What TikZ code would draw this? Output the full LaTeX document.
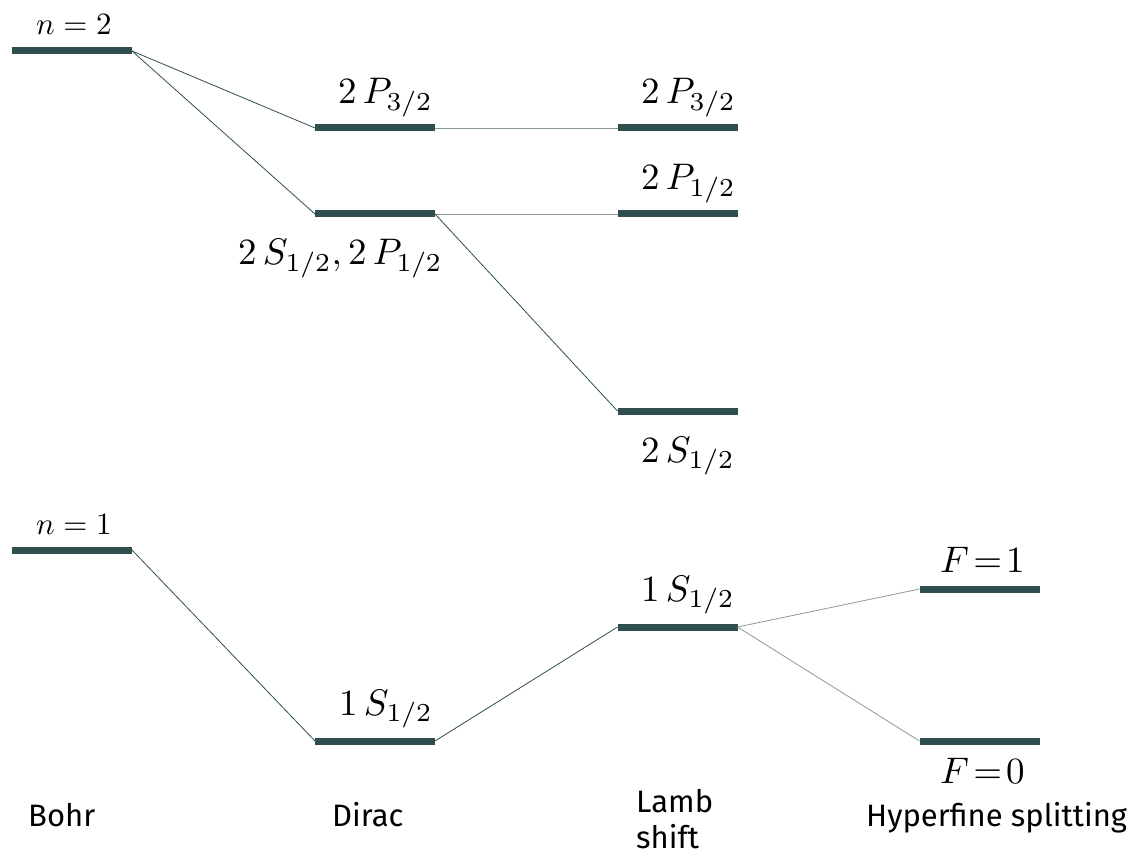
\documentclass[tikz,border=0pt]{standalone}
\usepackage{fontspec}
\setsansfont{Fira Sans}
\definecolor{bar}{HTML}{2F4F4F}
\definecolor{thin}{HTML}{8A9A9A}
\newcommand{\biglab}[1]{\scalebox{3.7}{$#1$}}
\newcommand{\nlabtext}[1]{\scalebox{3.1}{$#1$}}
\begin{document}
\begin{tikzpicture}[x=1pt,y=-1pt,
  lvl/.style={fill=bar,draw=none,minimum width=120pt,minimum height=7pt,inner sep=0pt,outer sep=0pt},
  lab/.style={anchor=base west,inner sep=0pt},
  captext/.style={anchor=base west,font=\sffamily\fontsize{31}{36}\selectfont,align=left,inner sep=0pt},
  link/.style={draw=bar,line width=0.8pt},
  glink/.style={draw=thin,line width=0.8pt}]
\useasboundingbox (0,0) rectangle (1133,861);
% levels
\node[lvl] (n2) at (72,51) {};
\node[lvl] (d2p) at (375,128) {};
\node[lvl] (d2s) at (375,214) {};
\node[lvl] (l2p3) at (677.5,128) {};
\node[lvl] (l2p1) at (677.5,214) {};
\node[lvl] (l2s) at (677.5,411) {};
\node[lvl] (n1) at (72,550) {};
\node[lvl] (d1s) at (375,741) {};
\node[lvl] (l1s) at (677.5,627) {};
\node[lvl] (f1) at (979.5,589) {};
\node[lvl] (f0) at (979.5,741) {};
% labels
\node[lab] (tn2) at (36,35) {\nlabtext{n=2}};
\node[lab] (td2p) at (338,104) {\biglab{2\,P_{3/2}}};
\node[lab] (td2s) at (238,265) {\biglab{2\,S_{1/2},2\,P_{1/2}}};
\node[lab] (tl2p3) at (641,104) {\biglab{2\,P_{3/2}}};
\node[lab] (tl2p1) at (641,190) {\biglab{2\,P_{1/2}}};
\node[lab] (tl2s) at (641,462) {\biglab{2\,S_{1/2}}};
\node[lab] (tn1) at (36,534) {\nlabtext{n=1}};
\node[lab] (td1s) at (339,715) {\biglab{1\,S_{1/2}}};
\node[lab] (tl1s) at (641,601) {\biglab{1\,S_{1/2}}};
\node[lab] (tf1) at (940,572) {\biglab{F\!=\!1}};
\node[lab] (tf0) at (940,783) {\biglab{F\!=\!0}};
% captions
\node[captext] (bohr) at (28,826) {Bohr};
\node[captext] (dirac) at (332,826) {Dirac};
\node[captext, anchor=north west] (lamb) at (636,789) {Lamb\\shift};
\node[captext] (hfs) at (866,826) {Hyperfine splitting};
% connectors
\draw[link] (n2.east) -- (d2p.west);
\draw[link] (n2.east) -- (d2s.west);
\draw[glink] (d2p.east) -- (l2p3.west);
\draw[glink] (d2s.east) -- (l2p1.west);
\draw[link] (d2s.east) -- (l2s.west);
\draw[link] (n1.east) -- (d1s.west);
\draw[link] (d1s.east) -- (l1s.west);
\draw[glink] (l1s.east) -- (f1.west);
\draw[glink] (l1s.east) -- (f0.west);
\end{tikzpicture}
\end{document}
